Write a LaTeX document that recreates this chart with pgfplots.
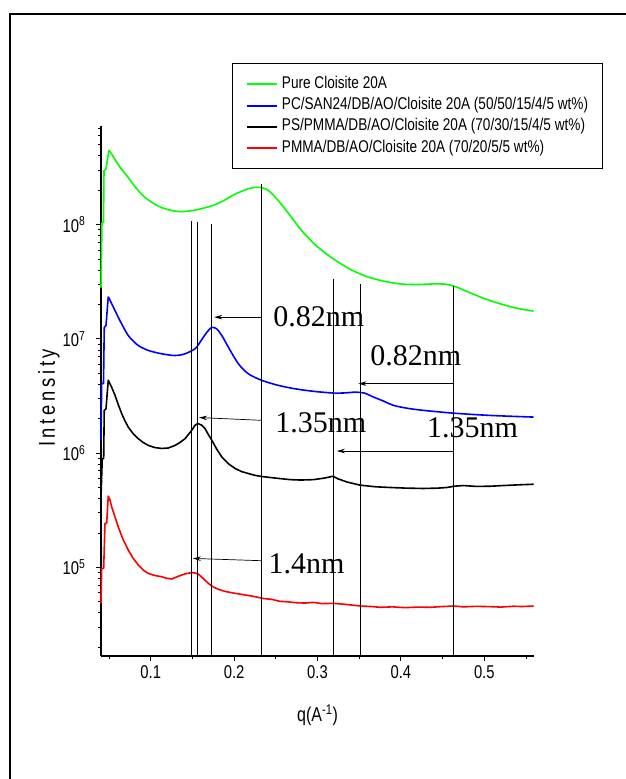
\documentclass[border=0pt]{standalone}
\usepackage{fontspec}
\setmainfont{Liberation Sans}[FakeStretch=0.8]
\newfontfamily\serifnm{Liberation Serif}
\usepackage{pgfplots}
\pgfplotsset{compat=1.18}
\usetikzlibrary{arrows.meta}

\definecolor{cgreen}{RGB}{0,255,0}
\definecolor{cblue}{RGB}{0,0,255}
\definecolor{cred}{RGB}{255,0,0}

\begin{document}
\begin{tikzpicture}[x=1pt,y=1pt]
\useasboundingbox (0,0) rectangle (626,779);
% page frame
\draw[line width=1.7pt] (10,-20) -- (10,765) -- (650,765);

\begin{axis}[
  at={(101pt,123pt)}, anchor=south west,
  scale only axis, width=433pt, height=530pt,
  xmin=0.0404, xmax=0.5596,
  ymode=log, ymin=1.68e4, ymax=7.3e8,
  axis x line*=bottom, axis y line*=left,
  axis line style={-, line width=1.1pt},
  tick align=outside,
  major tick length=5pt, minor tick length=3pt,
  every tick/.style={black, line width=0.9pt},
  xtick={0.1,0.2,0.3,0.4,0.5},
  xticklabels={0.1,0.2,0.3,0.4,0.5},
  minor xtick={0.05,0.15,0.25,0.35,0.45,0.55},
  ytick={1e5,1e6,1e7,1e8},
  yticklabels={10\textsuperscript{5},10\textsuperscript{6},10\textsuperscript{7},10\textsuperscript{8}},
  minor ytick={2e4,3e4,4e4,5e4,6e4,7e4,8e4,9e4,
               2e5,3e5,4e5,5e5,6e5,7e5,8e5,9e5,
               2e6,3e6,4e6,5e6,6e6,7e6,8e6,9e6,
               2e7,3e7,4e7,5e7,6e7,7e7,8e7,9e7,
               2e8,3e8,4e8,5e8,6e8,7e8},
  tick label style={font=\fontsize{18.5}{21}\selectfont},
  xticklabel style={yshift=-1pt},
  yticklabel style={xshift=-7pt},
  xlabel={q(A\textsuperscript{-1})},
  xlabel style={font=\fontsize{20}{23}\selectfont, at={(axis description cs:0.5,-0.112)}, anchor=center},
  ylabel={\addfontfeature{LetterSpace=16}Intensity},
  ylabel style={font=\fontsize{23}{26}\selectfont, at={(axis description cs:-0.12,0.487)}, anchor=center, rotate=0},
  legend style={at={(axis description cs:0.302,1.118)}, anchor=north west,
    draw=black, line width=0.8pt, fill=white,
    font=\fontsize{17}{19}\selectfont,
    inner xsep=14pt, inner ysep=12pt,
    row sep=4.3pt, column sep=4pt,
    nodes={inner sep=0pt, text height=12.5pt, text depth=4.5pt}},
  legend cell align=left,
  legend image code/.code={\draw[#1, line width=1.8pt] (0pt,0pt) -- (30pt,0pt);},
  clip=false,
  every axis plot/.append style={line width=1.6pt, line join=round, no markers},
]

% Pure Cloisite 20A: detector edge, then the scattering curve
\addplot[cgreen, forget plot] coordinates {
(0.0404,2.81e7) (0.0416,1.04e8) (0.0434,1.04e8) (0.0440,2.96e8) (0.0464,3.08e8)
(0.0500,4.49e8)
};
\addplot[cgreen, smooth, tension=0.5] coordinates {
(0.0500,4.49e8) (0.0550,3.95e8) (0.0608,3.37e8) (0.0670,2.93e8) (0.0731,2.58e8)
(0.0830,2.07e8) (0.0932,1.73e8) (0.1032,1.54e8) (0.1132,1.41e8) (0.1250,1.33e8)
(0.1372,1.30e8) (0.1532,1.34e8) (0.1732,1.46e8) (0.1880,1.63e8) (0.2012,1.85e8)
(0.2168,2.06e8) (0.2250,2.12e8) (0.2312,2.12e8) (0.2408,2.00e8) (0.2531,1.62e8)
(0.2672,1.20e8) (0.2812,8.85e7) (0.2984,6.55e7) (0.3191,5.01e7) (0.3392,4.07e7)
(0.3592,3.51e7) (0.3788,3.21e7) (0.3992,3.03e7) (0.4184,2.99e7) (0.4391,3.03e7)
(0.4532,3.01e7) (0.4652,2.87e7) (0.4784,2.62e7) (0.4912,2.39e7) (0.5048,2.19e7)
(0.5192,2.03e7) (0.5384,1.86e7) (0.5591,1.75e7)
};
\addlegendentry{Pure Cloisite 20A}

% PC/SAN24 blend
\addplot[cblue, forget plot] coordinates {
(0.0404,1.30e6) (0.0412,4.06e6) (0.0434,4.06e6) (0.0443,1.26e7) (0.0464,1.31e7)
(0.0491,2.34e7)
};
\addplot[cblue, smooth, tension=0.5] coordinates {
(0.0491,2.34e7) (0.0530,2.05e7) (0.0572,1.77e7) (0.0652,1.35e7) (0.0731,1.07e7)
(0.0790,9.60e6) (0.0851,8.75e6) (0.0971,7.93e6) (0.1132,7.41e6) (0.1292,7.16e6)
(0.1412,7.41e6) (0.1532,8.20e6) (0.1580,9.10e6) (0.1631,1.035e7) (0.1680,1.16e7)
(0.1732,1.265e7) (0.1770,1.25e7) (0.1811,1.183e7) (0.1870,1.02e7) (0.1931,8.47e6)
(0.2051,6.07e6) (0.2171,4.95e6) (0.2332,4.34e6) (0.2531,3.92e6) (0.2732,3.66e6)
(0.2950,3.48e6) (0.3191,3.36e6) (0.3332,3.37e6) (0.3450,3.42e6) (0.3560,3.36e6)
(0.3671,3.10e6) (0.3800,2.84e6) (0.3911,2.62e6) (0.4080,2.47e6) (0.4271,2.37e6)
(0.4631,2.24e6) (0.5072,2.14e6) (0.5591,2.07e6)
};
\addlegendentry{PC/SAN24/DB/AO/Cloisite 20A (50/50/15/4/5 wt\%)}

% PS/PMMA blend
\addplot[black] coordinates {
(0.0404,4.12e5) (0.0419,8.97e5) (0.0436,8.97e5) (0.0443,2.37e6) (0.0464,2.45e6)
(0.0491,4.35e6) (0.0530,3.80e6) (0.0572,3.21e6) (0.0612,2.65e6) (0.0652,2.22e6)
(0.0690,1.93e6) (0.0731,1.69e6) (0.0790,1.48e6) (0.0851,1.34e6) (0.0910,1.24e6)
(0.0971,1.17e6) (0.1050,1.12e6) (0.1132,1.10e6) (0.1210,1.11e6) (0.1292,1.17e6)
(0.1350,1.24e6) (0.1412,1.34e6) (0.1492,1.585e6) (0.1530,1.75e6) (0.1564,1.82e6)
(0.1610,1.76e6) (0.1652,1.64e6) (0.1690,1.46e6) (0.1732,1.30e6) (0.1790,1.09e6)
(0.1852,9.27e5) (0.1930,8.10e5) (0.2012,7.35e5) (0.2090,6.90e5) (0.2171,6.64e5)
(0.2250,6.40e5) (0.2332,6.25e5) (0.2500,6.05e5) (0.2672,5.87e5) (0.2800,5.82e5)
(0.2952,5.87e5) (0.3080,6.05e5) (0.3184,6.28e5) (0.3250,5.95e5) (0.3352,5.60e5)
(0.3512,5.25e5) (0.3700,5.08e5) (0.3872,5.01e5) (0.4050,4.95e5) (0.4271,4.91e5)
(0.4450,4.95e5) (0.4552,5.01e5) (0.4650,5.15e5) (0.4751,5.21e5) (0.4900,5.12e5)
(0.5072,5.14e5) (0.5250,5.22e5) (0.5400,5.28e5) (0.5591,5.35e5)
};
\addlegendentry{PS/PMMA/DB/AO/Cloisite 20A (70/30/15/4/5 wt\%)}

% PMMA blend
\addplot[cred] coordinates {
(0.0404,4.85e4) (0.0412,9.82e4) (0.0436,9.82e4) (0.0452,2.43e5) (0.0472,2.43e5)
(0.0491,4.21e5) (0.0510,3.95e5) (0.0532,3.39e5) (0.0570,2.80e5) (0.0611,2.26e5)
(0.0670,1.75e5) (0.0731,1.42e5) (0.0790,1.20e5) (0.0851,1.05e5) (0.0910,9.50e4)
(0.0971,8.87e4) (0.1050,8.50e4) (0.1132,8.30e4) (0.1190,8.05e4) (0.1252,7.93e4)
(0.1310,8.25e4) (0.1372,8.59e4) (0.1430,8.85e4) (0.1492,8.99e4) (0.1530,8.95e4)
(0.1571,8.75e4) (0.1630,8.00e4) (0.1691,7.26e4) (0.1750,6.75e4) (0.1811,6.44e4)
(0.1900,6.15e4) (0.2012,5.94e4) (0.2100,5.80e4) (0.2252,5.55e4) (0.2350,5.35e4)
(0.2452,5.26e4) (0.2550,5.05e4) (0.2650,5.00e4) (0.2732,4.92e4) (0.2850,4.88e4)
(0.2950,4.95e4) (0.3050,4.83e4) (0.3191,4.85e4) (0.3300,4.78e4) (0.3400,4.70e4)
(0.3512,4.60e4) (0.3650,4.55e4) (0.3752,4.48e4) (0.3900,4.52e4) (0.4050,4.45e4)
(0.4200,4.50e4) (0.4351,4.48e4) (0.4500,4.55e4) (0.4631,4.60e4) (0.4750,4.52e4)
(0.4900,4.57e4) (0.5072,4.54e4) (0.5200,4.50e4) (0.5350,4.58e4) (0.5450,4.55e4)
(0.5591,4.60e4)
};
\addlegendentry{PMMA/DB/AO/Cloisite 20A (70/20/5/5 wt\%)}

% peak markers
\begin{scope}[line width=0.7pt, black]
\draw (axis cs:0.1492,1.08e8) -- (axis cs:0.1492,1.68e4);
\draw (axis cs:0.1564,1.05e8) -- (axis cs:0.1564,1.68e4);
\draw (axis cs:0.1724,1.02e8) -- (axis cs:0.1724,1.68e4);
\draw (axis cs:0.2324,2.26e8) -- (axis cs:0.2324,1.68e4);
\draw (axis cs:0.3191,3.35e7) -- (axis cs:0.3191,1.68e4);
\draw (axis cs:0.3512,3.03e7) -- (axis cs:0.3512,1.68e4);
\draw (axis cs:0.4631,2.92e7) -- (axis cs:0.4631,1.68e4);
\end{scope}
\begin{scope}[line width=0.7pt, black, -{Stealth[length=8pt,width=4.5pt]}]
\draw (axis cs:0.2324,1.55e7) -- (axis cs:0.1762,1.55e7);
\draw (axis cs:0.4631,4.06e6) -- (axis cs:0.3490,4.06e6);
\draw (axis cs:0.2324,1.94e6) -- (axis cs:0.1580,2.05e6);
\draw (axis cs:0.4631,1.045e6) -- (axis cs:0.3232,1.045e6);
\draw (axis cs:0.2324,1.146e5) -- (axis cs:0.1505,1.20e5);
\end{scope}
\begin{scope}[every node/.style={anchor=base west, inner sep=0pt, font=\serifnm\fontsize{30}{36}\selectfont}]
\node at (axis cs:0.2469,1.28e7) {0.82nm};
\node at (axis cs:0.3632,5.86e6) {0.82nm};
\node at (axis cs:0.2492,1.53e6) {1.35nm};
\node at (axis cs:0.4312,1.37e6) {1.35nm};
\node at (axis cs:0.2411,8.87e4) {1.4nm};
\end{scope}
\end{axis}
\end{tikzpicture}
\end{document}
